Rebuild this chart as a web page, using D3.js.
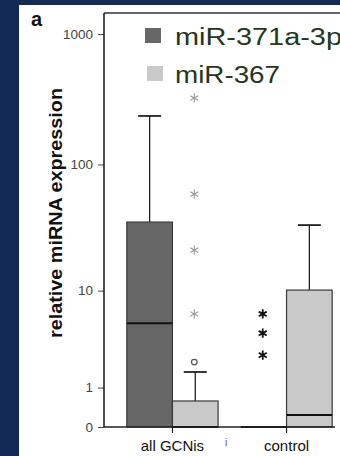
<!DOCTYPE html>
<html>
<head>
<meta charset="utf-8">
<script src="https://cdn.jsdelivr.net/npm/d3@7"></script>
<style>
  html, body { margin: 0; padding: 0; background: #132a55; }
  svg { display: block; }
</style>
</head>
<body>
<svg id="chart" width="340" height="456"></svg>
<script>
// Groups, series and y-axis ticks
const groups = ["all GCNis", "control"];
const series = ["miR-371a-3p", "miR-367"];
const yTicks = [0, 1, 10, 100, 1000];

// Box statistics per group, in series order
const q1Values      = [[0, 0], [0, 0]];
const medianValues  = [[5.2, 0], [0, 0.235]];
const q3Values      = [[35.7, 0.58], [0, 10.1]];
const whiskerValues = [[236, 1.63], [null, 33.8]];
// Outliers (circle) and extremes (asterisks)
const outlierValues = [[[], [2.13]], [[], []]];
const extremeValues = [[[], [6.3, 21.4, 59, 324]], [[2.54, 4.2, 6.3], []]];

const seriesFill = ["#676767", "#c9c9c9"];
const starColor = ["#111", "#9a9a9a"];
const font = "Liberation Sans, Arial, sans-serif";

const svg = d3.select("#chart");

// white panel
svg.append("rect").attr("x", 19).attr("y", 5).attr("width", 321).attr("height", 451).attr("fill", "#fff");

const y = d3.scaleSymlog().constant(1).domain([0, 1000]).range([427, 34]);
const x = d3.scaleBand().domain(groups).range([104, 355]).paddingInner(0.2).paddingOuter(0.2);
const xs = d3.scaleBand().domain(series).range([0, x.bandwidth()]);

// frame top
svg.append("line").attr("x1", 104).attr("x2", 340).attr("y1", 13).attr("y2", 13)
  .attr("stroke", "#333").attr("stroke-width", 1.5);

// y axis
const yAxis = svg.append("g").attr("transform", "translate(104,0)")
  .call(d3.axisLeft(y).tickValues(yTicks).tickSize(6).tickPadding(5).tickFormat(d3.format("d")));
yAxis.select(".domain").remove();
yAxis.selectAll(".tick line").attr("stroke", "#444");
yAxis.selectAll(".tick text").attr("fill", "#444").attr("font-family", font).attr("font-size", 13.5);
svg.append("line").attr("x1", 104).attr("x2", 104).attr("y1", 13).attr("y2", 427)
  .attr("stroke", "#111").attr("stroke-width", 1.5);

// boxes
groups.forEach((g, gi) => {
  series.forEach((s, si) => {
    const x0 = x(g) + xs(s);
    const w = xs.bandwidth();
    const cx = x0 + w / 2;
    const gEl = svg.append("g");
    const wv = whiskerValues[gi][si];
    if (wv !== null) {
      gEl.append("line").attr("x1", cx).attr("x2", cx).attr("y1", y(q3Values[gi][si])).attr("y2", y(wv))
        .attr("stroke", "#222").attr("stroke-width", 1.3);
      gEl.append("line").attr("x1", cx - 11.5).attr("x2", cx + 11.5).attr("y1", y(wv)).attr("y2", y(wv))
        .attr("stroke", "#222").attr("stroke-width", 1.8);
    }
    const top = y(q3Values[gi][si]);
    const bottom = y(q1Values[gi][si]);
    if (bottom - top > 0.5) {
      gEl.append("rect").attr("x", x0).attr("y", top).attr("width", w).attr("height", bottom - top)
        .attr("fill", seriesFill[si]).attr("stroke", "#3a3a3a").attr("stroke-width", 1.2);
    }
    gEl.append("line").attr("x1", x0).attr("x2", x0 + w)
      .attr("y1", y(medianValues[gi][si])).attr("y2", y(medianValues[gi][si]))
      .attr("stroke", "#111").attr("stroke-width", 2);
    outlierValues[gi][si].forEach(v => {
      gEl.append("circle").attr("cx", cx - 1).attr("cy", y(v)).attr("r", 2.8)
        .attr("fill", "none").attr("stroke", "#555").attr("stroke-width", 1.2);
    });
    extremeValues[gi][si].forEach(v => {
      gEl.append("path").attr("d", d3.symbol(d3.symbolAsterisk, 60)())
        .attr("transform", `translate(${cx - 1},${y(v)})`)
        .attr("fill", "none").attr("stroke", starColor[si]).attr("stroke-width", si === 0 ? 1.8 : 1.1);
    });
  });
});

// x axis
svg.append("line").attr("x1", 104).attr("x2", 335).attr("y1", 427).attr("y2", 427)
  .attr("stroke", "#222").attr("stroke-width", 1.5);
const xAxis = svg.append("g").attr("transform", "translate(0,427)")
  .call(d3.axisBottom(x).tickSize(6).tickPadding(7));
xAxis.select(".domain").remove();
xAxis.selectAll(".tick line").attr("stroke", "#222").attr("stroke-width", 1.2);
xAxis.selectAll(".tick text").attr("fill", "#111").attr("font-family", font).attr("font-size", 15);

svg.append("text").attr("x", 226).attr("y", 446).attr("text-anchor", "middle")
  .attr("font-family", font).attr("font-size", 10).attr("fill", "#555").text("i");

// y title
svg.append("text").attr("transform", "translate(62,213) rotate(-90)").attr("text-anchor", "middle")
  .attr("font-family", font).attr("font-weight", "bold").attr("font-size", 17.5)
  .attr("fill", "#111").attr("textLength", 250).attr("lengthAdjust", "spacingAndGlyphs")
  .text("relative miRNA expression");

// panel letter
svg.append("text").attr("x", 31).attr("y", 26).attr("font-family", font)
  .attr("font-weight", "bold").attr("font-size", 20).attr("fill", "#111").text("a");

// legend
const legendY = [28, 66];
const legendTextWidth = [167, 105];
series.forEach((s, i) => {
  svg.append("rect").attr("x", 145 + i * 2).attr("y", legendY[i]).attr("width", 16).attr("height", 15)
    .attr("fill", seriesFill[i]);
  svg.append("text").attr("x", 175).attr("y", legendY[i] + 17).attr("font-family", font)
    .attr("font-size", 23.5).attr("fill", "#26361c")
    .attr("textLength", legendTextWidth[i]).attr("lengthAdjust", "spacingAndGlyphs").text(s);
});
</script>
</body>
</html>
